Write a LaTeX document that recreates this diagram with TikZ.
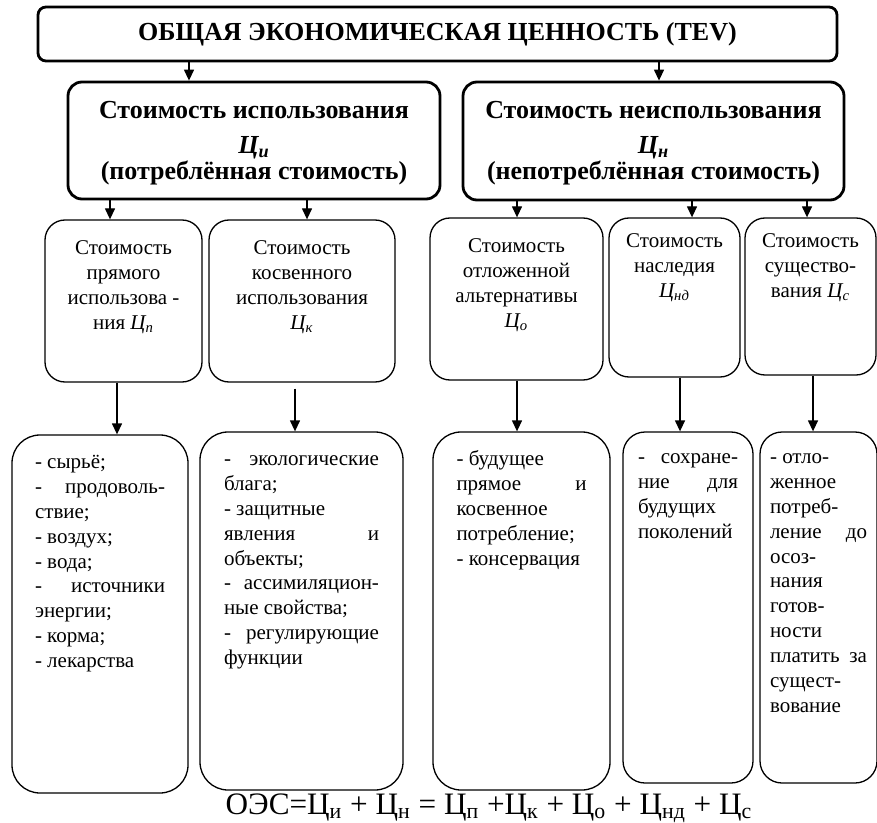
\documentclass[tikz,border=0pt]{standalone}
\usepackage{fontspec}
\setmainfont{Liberation Serif}
\usetikzlibrary{arrows.meta}

% text set from the top of a box
\newcommand{\celltext}[4]{\parbox[c][#2][t]{#1}{\vspace*{#3}#4}}
% a line spread to the full width
\newcommand{\jl}[1]{\makebox[\linewidth][s]{#1}}
\newcommand{\Ci}[1]{\textit{Ц\textsubscript{#1}}}

\tikzset{
  headbox/.style={draw, line width=1.4pt, rounded corners=4pt, inner sep=0pt},
  valuebox/.style={draw, line width=1.4pt, rounded corners=7pt, inner sep=0pt, font=\bfseries\fontsize{13}{13}\selectfont},
  kindbox/.style={draw, line width=0.65pt, rounded corners=10pt, inner ysep=0pt, inner xsep=2pt, font=\fontsize{10.5}{12.45}\selectfont},
  listbox/.style={draw, line width=0.65pt, rounded corners=14pt, inner ysep=0pt, font=\fontsize{10.5}{12.45}\selectfont},
  arr/.style={line width=0.65pt, -{Triangle[width=5pt,length=5.5pt]}},
}

\begin{document}
\begin{tikzpicture}[x=0.5pt, y=-0.5pt]
  \useasboundingbox (0,0) rectangle (877,823);

  %% total value
  \node[headbox, minimum width=399.5pt, minimum height=27pt, font=\bfseries\fontsize{13}{13}\selectfont] (tev) at (437.5,34) {ОБЩАЯ ЭКОНОМИЧЕСКАЯ ЦЕННОСТЬ (TEV)};

  %% use and non-use
  \node[valuebox] (use) at (254,140.5) {\celltext{186pt}{58.5pt}{9.4pt}{\centering\strut Стоимость использования\\[4.5pt] \Ci{и}\\ (потреблённая стоимость)\par}};
  \node[valuebox] (nonuse) at (653.5,141) {\celltext{190.5pt}{59pt}{9.4pt}{\centering\strut Стоимость неиспользования\\[4.5pt] \Ci{н}\\ (непотреблённая стоимость)\par}};

  %% kinds of value
  \node[kindbox] (direct) at (123.5,301) {\celltext{74.5pt}{81pt}{8.5pt}{\centering\strut Стоимость\\ прямого\\ использова -\\ ния \Ci{п}\par}};
  \node[kindbox] (indirect) at (302,301) {\celltext{89pt}{81pt}{8.5pt}{\centering\strut Стоимость\\ косвенного\\ использования\\ \Ci{к}\par}};
  \node[kindbox] (option) at (516.5,299) {\celltext{82.5pt}{81pt}{8.5pt}{\centering\strut Стоимость\\ отложенной\\ альтернативы\\ \Ci{о}\par}};
  \node[kindbox] (bequest) at (674.5,297.5) {\celltext{61.5pt}{79.5pt}{6pt}{\centering\strut Стоимость\\ наследия\\ \Ci{нд}\par}};
  \node[kindbox] (exist) at (810.5,296.5) {\celltext{61.5pt}{78.5pt}{6pt}{\centering\strut Стоимость\\ существо-\\ вания \Ci{с}\par}};

  %% what each gives
  \node[listbox, inner xsep=11.5pt] (lista) at (100,614) {\celltext{65pt}{179pt}{8pt}{\raggedright\strut - сырьё;\\ \jl{- продоволь-}\\ ствие;\\ - воздух;\\ - вода;\\ \jl{- источники}\\ энергии;\\ - корма;\\ - лекарства\par}};
  \node[listbox, inner xsep=12pt] (listb) at (301.5,611) {\celltext{77.5pt}{179pt}{8pt}{\raggedright\strut \jl{- экологические}\\ блага;\\ - защитные\\ \jl{явления и}\\ объекты;\\ \jl{- ассимиляцион-}\\ ные свойства;\\ \jl{- регулирующие}\\ функции\par}};
  \node[listbox, inner xsep=11.75pt] (listc) at (521.5,611) {\celltext{65pt}{179pt}{8pt}{\raggedright\strut - будущее\\ \jl{прямое и}\\ косвенное\\ потребление;\\ - консервация\par}};
  \node[listbox, inner xsep=7.5pt, rounded corners=11pt] (listd) at (688,607.5) {\celltext{50pt}{175.5pt}{7pt}{\raggedright\strut \jl{- сохране-}\\ \jl{ние для}\\ будущих\\ поколений\par}};
  \node[listbox, inner xsep=5pt, rounded corners=11pt] (liste) at (818.5,607.5) {\celltext{48.5pt}{175.5pt}{7pt}{\raggedright\strut - отло-\\ женное\\ потреб-\\ \jl{ление до}\\ осоз-\\ нания\\ готов-\\ ности\\ \jl{платить за}\\ сущест-\\ вование\par}};

  %% formula
  \node[font=\fontsize{15.6}{16}\selectfont] (oes) at (489,808) {ОЭС=Ц\textsubscript{и} + Ц\textsubscript{н} = Ц\textsubscript{п} +Ц\textsubscript{к} + Ц\textsubscript{о} + Ц\textsubscript{нд} + Ц\textsubscript{с}};

  %% arrows
  \draw[arr] (tev.south -| 189,0) -- (use.north -| 189,0);
  \draw[arr] (tev.south -| 659,0) -- (nonuse.north -| 659,0);
  \draw[arr] (use.south -| 110,0) -- (direct.north -| 110,0);
  \draw[arr] (use.south -| 307,0) -- (indirect.north -| 307,0);
  \draw[arr] (nonuse.south -| 517,0) -- (option.north -| 517,0);
  \draw[arr] (nonuse.south -| 692,0) -- (bequest.north -| 692,0);
  \draw[arr] (nonuse.south -| 807,0) -- (exist.north -| 807,0);
  \draw[arr] (direct.south -| 117,0) -- (lista.north -| 117,0);
  \draw[arr, shorten <=3pt] (indirect.south -| 295,0) -- (listb.north -| 295,0);
  \draw[arr] (option.south -| 517,0) -- (listc.north -| 517,0);
  \draw[arr] (bequest.south -| 680,0) -- (listd.north -| 680,0);
  \draw[arr] (exist.south -| 813,0) -- (liste.north -| 813,0);

\end{tikzpicture}
\end{document}
